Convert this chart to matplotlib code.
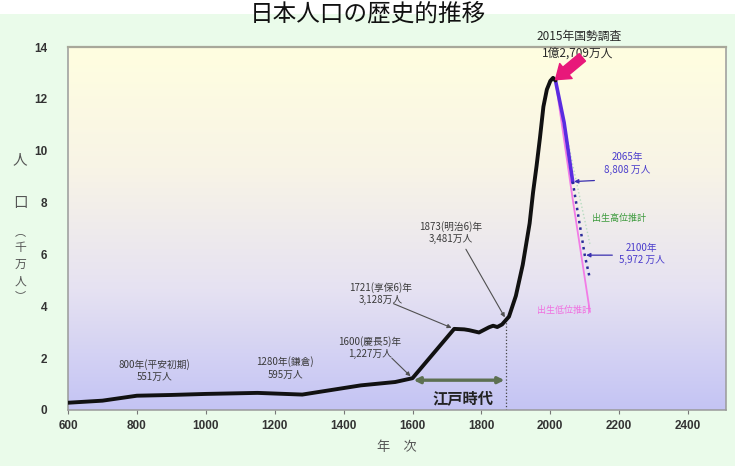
import numpy as np
import matplotlib.pyplot as plt
from matplotlib.colors import LinearSegmentedColormap
from matplotlib.patches import Rectangle

plt.rcParams['font.family'] = ['Noto Sans CJK JP', 'DejaVu Sans']

# 日本の人口（千万人）
years = [600, 700, 800, 900, 1000, 1150, 1280, 1450, 1550, 1600, 1721, 1750,
         1764, 1793, 1822, 1834, 1846, 1860, 1872, 1880, 1900, 1920, 1930,
         1940, 1950, 1960, 1970, 1980, 1990, 2000, 2008, 2015]
pop = [0.28, 0.36, 0.551, 0.58, 0.62, 0.66, 0.595, 0.95, 1.08, 1.227, 3.128,
       3.11, 3.08, 2.99, 3.19, 3.25, 3.2, 3.3, 3.481, 3.6, 4.4, 5.6, 6.4,
       7.2, 8.4, 9.4, 10.5, 11.7, 12.36, 12.69, 12.81, 12.709]

# 将来推計
mid_years = [2015, 2040, 2065]
mid_pop = [12.709, 11.09, 8.808]
mid_dot_years = [2065, 2100, 2115]
mid_dot_pop = [8.808, 5.972, 5.06]
low_years = [2015, 2065, 2115]
low_pop = [12.709, 8.13, 3.79]
high_years = [2015, 2065, 2115]
high_pop = [12.709, 9.46, 6.4]

# 注記
plain_years = [852, 1230]
plain_pops = [1.54, 1.62]
plain_labels = ['800年(平安初期)\n551万人', '1280年(鎌倉)\n595万人']
note_years = [1600, 1721, 1872]
note_pops = [1.227, 3.128, 3.481]
note_labels = ['1600(慶長5)年\n1,227万人', '1721(享保6)年\n3,128万人',
               '1873(明治6)年\n3,481万人']
edo_start, edo_end = 1603, 1867
census_year, census_pop = 2015, 12.709

W, H = 735, 466
fig = plt.figure(figsize=(W / 100, H / 100), dpi=100)
fig.patch.set_facecolor('#eafbea')
fig.patches.append(Rectangle((0, 1 - 14 / H), 1, 14 / H, transform=fig.transFigure,
                             facecolor='white', edgecolor='none', zorder=0))
fig.text(0.5, 1 - 14 / H, '日本人口の歴史的推移', ha='center', va='center',
         fontsize=17, color='#111111')

ax = fig.add_axes([68 / W, 1 - 410 / H, (726 - 68) / W, (410 - 47) / H])
ax.set_xlim(600, 2510)
ax.set_ylim(0, 14)

# 背景グラデーション
cmap = LinearSegmentedColormap.from_list(
    'bg', ['#c4c4f4', '#e6e2f2', '#f8f4e6', '#fffee0'])
grad = np.linspace(0, 1, 256).reshape(-1, 1)
ax.imshow(grad, extent=[600, 2510, 0, 14], origin='lower', aspect='auto',
          cmap=cmap, zorder=0)

ax.plot(years, pop, color='#111111', lw=2.8, solid_capstyle='round',
        solid_joinstyle='round', zorder=5)
ax.plot(high_years, high_pop, color='#b6dcc0', lw=1.0, ls=':', zorder=3)
ax.plot(low_years, low_pop, color='#f27ce6', lw=1.3, zorder=3)
ax.plot(mid_years, mid_pop, color='#5a2ce0', lw=2.6, zorder=4)
ax.plot(mid_dot_years, mid_dot_pop, color='#2a2a9a', lw=1.8, ls=':', zorder=4)

# 明治元年付近の区切り
ax.plot([1872, 1872], [0, 3.481], color='#444444', lw=0.9, ls=':', zorder=2)

# 江戸時代
ax.annotate('', xy=(edo_start, 1.15), xytext=(edo_end, 1.15),
            arrowprops=dict(arrowstyle='<|-|>', color='#5d7052', lw=2.4,
                            mutation_scale=9, shrinkA=0, shrinkB=0), zorder=6)
ax.text((edo_start + edo_end) / 2 + 12, 0.46, '江戸時代', ha='center',
        va='center', fontsize=11, fontweight='bold', color='#222222')

for x, y, s in zip(plain_years, plain_pops, plain_labels):
    ax.text(x, y, s, ha='center', va='center', fontsize=7, color='#3a3a3a',
            linespacing=1.25)

note_text_pos = [(1477, 2.4), (1508, 4.5), (1712, 6.85)]
note_arrow_from = [(1540, 2.0), (1545, 4.1), (1755, 6.2)]
for (x, y), (tx, ty), (ax0, ay0), s in zip(zip(note_years, note_pops),
                                           note_text_pos, note_arrow_from,
                                           note_labels):
    ax.text(tx, ty, s, ha='center', va='center', fontsize=7, color='#3a3a3a',
            linespacing=1.25)
    ax.annotate('', xy=(x, y), xytext=(ax0, ay0),
                arrowprops=dict(arrowstyle='-|>', color='#505050', lw=0.8,
                                mutation_scale=6, shrinkA=0, shrinkB=2))

# 2015年国勢調査
ax.text(2084, 14.42, '2015年国勢調査', ha='center', va='center', fontsize=8.5,
        color='#2a2a2a', clip_on=False)
ax.text(2078, 13.78, '1億2,709万人', ha='center', va='center', fontsize=8.5,
        color='#2a2a2a', clip_on=False)
ax.annotate('', xy=(census_year, census_pop + 0.03), xytext=(2093, 13.6),
            arrowprops=dict(arrowstyle='simple,head_length=0.7,head_width=1.0,tail_width=0.5',
                            color='#e8187a', mutation_scale=14, shrinkA=0, shrinkB=0),
            zorder=7)

# 推計の注記
ax.text(2223, 9.5, '2065年\n8,808 万人', ha='center', va='center', fontsize=7,
        color='#4a3ccc', linespacing=1.3)
ax.annotate('', xy=(2065, 8.808), xytext=(2128, 8.85),
            arrowprops=dict(arrowstyle='-|>', color='#3a30b0', lw=0.9,
                            mutation_scale=6, shrinkA=0, shrinkB=1))
ax.text(2265, 6.02, '2100年\n5,972 万人', ha='center', va='center', fontsize=7,
        color='#4a3ccc', linespacing=1.3)
ax.annotate('', xy=(2100, 5.972), xytext=(2180, 5.972),
            arrowprops=dict(arrowstyle='-|>', color='#3a30b0', lw=0.9,
                            mutation_scale=6, shrinkA=0, shrinkB=1))
ax.text(2200, 7.38, '出生高位推計', ha='center', va='center', fontsize=6.5,
        color='#3c9a3c')
ax.text(2040, 3.85, '出生低位推計', ha='center', va='center', fontsize=6.5,
        color='#f070e0')

# 軸
for side in ['left', 'bottom', 'right', 'top']:
    ax.spines[side].set_color('#9a9a9a')
    ax.spines[side].set_linewidth(1.1)
ax.spines['top'].set_color('#a8a89a')
ax.spines['top'].set_linewidth(1.6)

ax.set_xticks(range(600, 2401, 200))
ax.set_yticks(range(0, 15, 2))
ax.tick_params(axis='x', length=3, width=0.8, color='#777777', pad=4,
               labelsize=8.5, labelcolor='#333333', labelfontfamily='Liberation Sans')
ax.tick_params(axis='y', length=0, pad=15, labelsize=8.5, labelcolor='#333333',
               labelfontfamily='Liberation Sans')
for lab in ax.get_xticklabels() + ax.get_yticklabels():
    lab.set_fontweight('bold')

ax.set_xlabel('年　次', fontsize=9.5, color='#555555', labelpad=7)

# 縦書きの軸ラベル
ylab_chars = ['人', '口', '︵', '千', '万', '人', '︶']
ylab_pos = [160, 203, 232, 247, 264, 281, 296]
ylab_size = [10.5, 10.5, 8, 8.5, 8.5, 8.5, 8]
for c, py, fs in zip(ylab_chars, ylab_pos, ylab_size):
    fig.text(20 / W, 1 - py / H, c, ha='center', va='center', fontsize=fs,
             color='#555555')

fig.savefig('out.png', dpi=100, facecolor=fig.get_facecolor())
